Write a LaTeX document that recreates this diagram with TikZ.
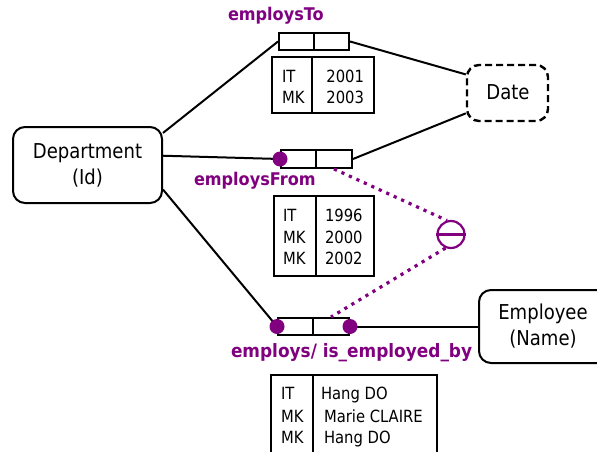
\documentclass[tikz,border=0pt]{standalone}
\usepackage{fontspec}
\setmainfont{DejaVu Sans}
\newfontfamily\condfont{DejaVu Sans}[FakeStretch=0.88]
\newfontfamily\lblfont{DejaVu Sans}[FakeStretch=0.92]
\definecolor{rolepurple}{HTML}{800080}
\begin{document}
\begin{tikzpicture}[x=1pt,y=-1pt,line width=2pt,
  ent/.style={draw,rounded corners=12pt,inner sep=0pt},
  enttext/.style={font=\condfont\fontsize{20.5}{26}\selectfont,align=center,inner sep=0pt},
  half/.style={draw,minimum width=35pt,minimum height=17pt,inner sep=0pt,anchor=north west},
  lbl/.style={text=rolepurple,font=\lblfont\bfseries\fontsize{17.5}{19}\selectfont,anchor=base west,inner sep=0pt},
  cell/.style={font=\condfont\fontsize{16.8}{20}\selectfont,inner sep=0pt,anchor=base west},
  cellr/.style={cell,anchor=base east},
  dotline/.style={rolepurple,line width=3.2pt,dash pattern=on 3.2pt off 5pt},
  roledot/.style={circle,fill=rolepurple,minimum size=15pt,inner sep=0pt},
  tab/.style={draw,inner sep=0pt,anchor=north west}]
\useasboundingbox (0,0) rectangle (597,452);

% entities
\node[ent,minimum width=149pt,minimum height=76pt] (dept) at (87.5,165) {};
\node[enttext] (deptt) at (87.5,165) {Department\\(Id)};
\node[ent,dash pattern=on 7pt off 4pt,line width=2.4pt,minimum width=81pt,minimum height=56pt] (date) at (507.5,93) {};
\node[enttext] (datet) at (508,92) {Date};
\node[ent,minimum width=137pt,minimum height=73pt,anchor=west] (emp) at (478,326.5) {};
\node[enttext] (empt) at (543,326.5) {Employee\\(Name)};

% role boxes
\node[half] (r1a) at (278,32) {};
\node[half] (r1b) at (313,32) {};
\node[half,minimum height=18pt] (r2a) at (280,149) {};
\node[half,minimum height=18pt,minimum width=36pt] (r2b) at (315,149) {};
\node[half] (r3a) at (277,317) {};
\node[half,minimum width=36pt] (r3b) at (312,317) {};

% labels
\node[lbl] (lto) at (227,21) {employsTo};
\node[lbl] (lfrom) at (193,185) {employsFrom};
\node[lbl,font=\lblfont\bfseries\fontsize{18.4}{19}\selectfont] (lemp) at (230,357) {employs/ is\_employed\_by};

% connectors
\draw (dept.23) -- (r1a.west);
\draw (r1b.east) -- (date.156);
\draw (dept.7) -- (r2a.west);
\draw (r2b.east) -- (date.206);
\draw (dept.-18) -- (r3a.west);
\draw (r3b.east) -- (emp.west);

% exclusion constraint
\node[circle,draw=rolepurple,line width=2.2pt,minimum size=27pt,inner sep=0pt] (excl) at (451,234.5) {};
\draw[rolepurple,line width=2.2pt] (excl.west) -- (excl.east);
\draw[dotline] (r2b.south) -- (excl.106);
\draw[dotline] (excl.248) -- (r3b.north);

% mandatory dots
\node[roledot] (d1) at (r2a.west) {};
\node[roledot] (d2) at (r3a.west) {};
\node[roledot] (d3) at (r3b.east) {};

% table employsTo
\node[tab,minimum width=102pt,minimum height=56pt] (t1) at (271,56) {};
\draw (312,56) -- (312,112);
\node[cell] (t1a) at (281,82) {IT};
\node[cell] (t1b) at (281,103) {MK};
\node[cellr] (t1c) at (365,82) {2001};
\node[cellr] (t1d) at (365,103) {2003};

% table employsFrom
\node[tab,minimum width=100pt,minimum height=80pt] (t2) at (273,195) {};
\draw (316,195) -- (316,275);
\node[cell] (t2a) at (282,221) {IT};
\node[cell] (t2b) at (282,243) {MK};
\node[cell] (t2c) at (282,264) {MK};
\node[cell] (t2d) at (324,221) {1996};
\node[cell] (t2e) at (324,243) {2000};
\node[cell] (t2f) at (324,264) {2002};

% table employs
\draw (271,460) -- (271,375) -- (437,375) -- (437,460);
\draw (313,375) -- (313,460);
\node[cell] (t3a) at (280,399) {IT};
\node[cell] (t3b) at (280,422) {MK};
\node[cell] (t3c) at (280,443) {MK};
\node[cell] (t3d) at (320,399) {Hang DO};
\node[cell] (t3e) at (323,422) {Marie CLAIRE};
\node[cell] (t3f) at (323,443) {Hang DO};
\end{tikzpicture}
\end{document}
